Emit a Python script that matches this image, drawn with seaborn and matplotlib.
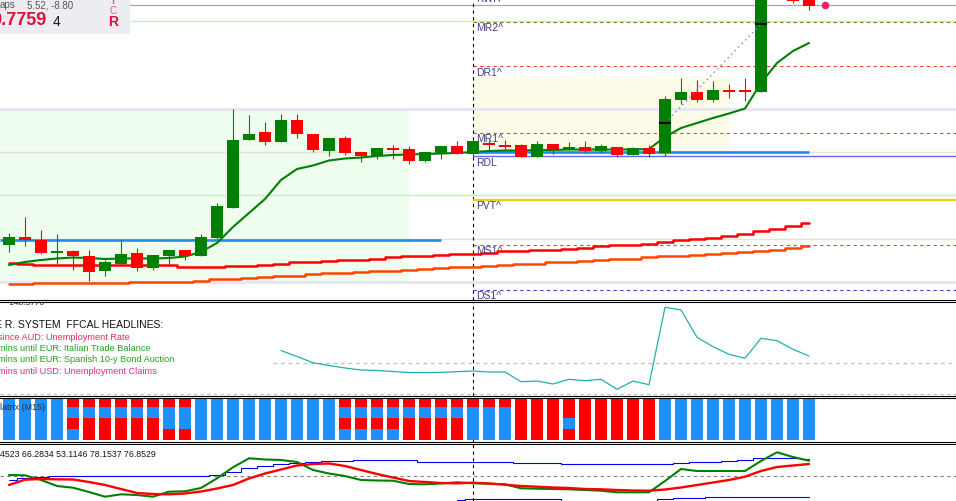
import matplotlib
matplotlib.use("Agg")
import numpy as np
import seaborn as sns
from matplotlib import pyplot as plt
from matplotlib.patches import Rectangle

# ---- data (AUDUSD, M15) ----
opens = [0.77111, 0.77125, 0.77121, 0.77095, 0.77098, 0.77088, 0.77059, 0.77073, 0.77093, 0.77063,
         0.77088, 0.77100, 0.77089, 0.77125, 0.77185, 0.77321, 0.77336, 0.77317, 0.77360, 0.77332,
         0.77299, 0.77324, 0.77296, 0.77289, 0.77303, 0.77302, 0.77279, 0.77293, 0.77308, 0.77292,
         0.77313, 0.77310, 0.77310, 0.77287, 0.77312, 0.77303, 0.77306, 0.77299, 0.77306, 0.77290,
         0.77304, 0.77294, 0.77400, 0.77416, 0.77400, 0.77420, 0.77419, 0.77417, 0.77612, 0.77648, 0.77603]
highs = [0.77135, 0.77167, 0.77140, 0.77132, 0.77100, 0.77101, 0.77081, 0.77119, 0.77104, 0.77090,
         0.77100, 0.77100, 0.77132, 0.77195, 0.77382, 0.77371, 0.77356, 0.77372, 0.77372, 0.77332,
         0.77325, 0.77328, 0.77296, 0.77305, 0.77311, 0.77308, 0.77297, 0.77308, 0.77318, 0.77320,
         0.77321, 0.77320, 0.77312, 0.77319, 0.77312, 0.77317, 0.77319, 0.77313, 0.77306, 0.77307,
         0.77310, 0.77408, 0.77445, 0.77440, 0.77439, 0.77432, 0.77444, 0.77630, 0.77660, 0.77655, 0.77608]
lows = [0.77096, 0.77107, 0.77092, 0.77073, 0.77060, 0.77039, 0.77048, 0.77070, 0.77059, 0.77061,
        0.77068, 0.77081, 0.77089, 0.77123, 0.77185, 0.77321, 0.77310, 0.77317, 0.77325, 0.77297,
        0.77289, 0.77291, 0.77275, 0.77283, 0.77283, 0.77272, 0.77276, 0.77283, 0.77293, 0.77288,
        0.77300, 0.77303, 0.77287, 0.77287, 0.77293, 0.77300, 0.77295, 0.77295, 0.77287, 0.77290,
        0.77287, 0.77288, 0.77392, 0.77396, 0.77396, 0.77405, 0.77399, 0.77417, 0.77605, 0.77595, 0.77580]
closes = [0.77125, 0.77119, 0.77094, 0.77098, 0.77087, 0.77057, 0.77076, 0.77093, 0.77063, 0.77090,
          0.77100, 0.77088, 0.77125, 0.77188, 0.77321, 0.77332, 0.77317, 0.77360, 0.77331, 0.77301,
          0.77324, 0.77295, 0.77289, 0.77304, 0.77301, 0.77279, 0.77295, 0.77308, 0.77293, 0.77318,
          0.77309, 0.77307, 0.77287, 0.77312, 0.77300, 0.77306, 0.77299, 0.77307, 0.77290, 0.77305,
          0.77293, 0.77402, 0.77416, 0.77400, 0.77421, 0.77417, 0.77418, 0.77612, 0.77648, 0.77598, 0.77589]

ma_fast = [0.77070, 0.77076, 0.77080, 0.77083, 0.77085, 0.77084, 0.77082, 0.77083, 0.77083, 0.77083,
           0.77084, 0.77087, 0.77096, 0.77114, 0.77146, 0.77174, 0.77202, 0.77240, 0.77262, 0.77269,
           0.77279, 0.77283, 0.77285, 0.77288, 0.77290, 0.77291, 0.77292, 0.77293, 0.77294, 0.77296,
           0.77298, 0.77299, 0.77299, 0.77300, 0.77300, 0.77301, 0.77301, 0.77301, 0.77301, 0.77301,
           0.77302, 0.77326, 0.77344, 0.77354, 0.77364, 0.77373, 0.77383, 0.77434, 0.77474, 0.77498, 0.77514]
ma_mid = [0.77074, 0.77072, 0.77071, 0.77071, 0.77071, 0.77071, 0.77071, 0.77071, 0.77071, 0.77071,
          0.77071, 0.77067, 0.77067, 0.77067, 0.77068, 0.77069, 0.77071, 0.77073, 0.77075, 0.77076,
          0.77078, 0.77080, 0.77081, 0.77083, 0.77085, 0.77087, 0.77088, 0.77090, 0.77092, 0.77093,
          0.77095, 0.77097, 0.77098, 0.77100, 0.77101, 0.77103, 0.77105, 0.77107, 0.77109, 0.77111,
          0.77113, 0.77116, 0.77119, 0.77122, 0.77125, 0.77129, 0.77133, 0.77138, 0.77143, 0.77149, 0.77155]
ma_slow = [0.77032, 0.77032, 0.77034, 0.77034, 0.77034, 0.77034, 0.77034, 0.77035, 0.77036, 0.77036,
           0.77036, 0.77037, 0.77039, 0.77041, 0.77043, 0.77044, 0.77046, 0.77048, 0.77049, 0.77051,
           0.77053, 0.77054, 0.77056, 0.77058, 0.77059, 0.77061, 0.77062, 0.77064, 0.77066, 0.77067,
           0.77068, 0.77070, 0.77072, 0.77073, 0.77075, 0.77077, 0.77079, 0.77080, 0.77082, 0.77083,
           0.77085, 0.77087, 0.77089, 0.77090, 0.77092, 0.77094, 0.77096, 0.77098, 0.77101, 0.77104, 0.77107]

level_names = ["RWH", "MR2^", "DR1^", "MR1^", "RDL", "PVT^", "MS1^", "DS1^"]
level_prices = [0.77614, 0.77557, 0.77468, 0.77335, 0.77288, 0.77201, 0.77111, 0.77021]
bid_price = 0.77590

# news panel line, starts at bar 17
news_start = 17
news_line = [12.5, 6.5, 0.3, -2.5, -5, -7, -7.5, -8.5, -9.5, -9.7,
             -9.3, -8.7, -8, -9, -9, -18.7, -18, -21, -16.3, -17.7,
             -16.3, -26.3, -18, -21.7, 55.7, 53, 25.7, 16.3, 8.7, 4.7,
             24.7, 22.3, 13.7, 7]
headlines = ["since AUD: Unemployment Rate",
             "mins until EUR: Italian Trade Balance",
             "mins until EUR: Spanish 10-y Bond Auction",
             "mins until USD: Unemployment Claims"]

# trend matrix (M15), 4 rows, B = blue / R = red
matrix_rows = ["BBBB" + "R" * 8 + "B" * 9 + "R" * 20 + "B" * 10,
               "B" * 32 + "R" * 9 + "B" * 10,
               "BBBB" + "R" * 6 + "BB" + "B" * 9 + "R" * 8 + "BBB" + "RRR" + "B" + "R" * 5 + "B" * 10,
               "B" * 5 + "R" * 7 + "B" * 9 + "BBBB" + "RRRR" + "BBB" + "R" * 9 + "B" * 10]

osc_green = [1, 0.7, -4, -10, -11.7, -16, -20.7, -18.3, -19, -20.7,
             -15.7, -15.3, -12, -2.3, 8.7, 17.7, 16.5, 16, 14, 6,
             2.5, 0, -4, -4.5, -4.7, -8, -8.3, -7.5, -6.3, -7.3,
             -7.7, -8.3, -12.3, -12.7, -13, -13.3, -14, -14.7, -16.3, -16.3,
             -16.3, -5, 7, 5, 5, 5, 5, 15, 23.7, 19, 15.3]
osc_red = [-9, -3.7, -3, -3.3, -3.5, -6, -9, -13, -17, -18,
           -18.3, -17.5, -15.5, -12.5, -9, -2.5, 2.5, 6.5, 10.5, 12,
           12.5, 10, 6, 2, -1.5, -5, -6, -7, -7.3, -6.7,
           -7.5, -8.7, -10, -10.7, -11.5, -12, -13, -13.3, -14, -14.5,
           -14.7, -13.5, -11.5, -9, -6.5, -4, -0.7, 5, 9, 10.5, 12]
band_upper = [-3.7, -2, -1, 0, 0, 0, 0, 0, 0, 0,
              0, 0, 0, 1, 4.3, 7.7, 10, 11.7, 12.7, 14,
              14.7, 15.3, 15.7, 15.7, 15.7, 15.7, 14.3, 14.3, 14.3, 14.3,
              14.3, 14.3, 12.7, 12.7, 12.7, 11.7, 11.7, 11.7, 11.7, 11.7,
              11.7, 11.7, 12.7, 13.7, 13.7, 15, 16, 17.7, 17.7, 18, 17]
band_lower_start = 28
band_lower = [-24, -23.3, -23.3, -23.3, -23.3, -23.3, -23.3, -26, -26, -26,
              -26, -26, -26, -23.3, -22.3, -21.7, -20.7, -20.7, -21.3, -21.3,
              -21.3, -21.3, -21.3]

# ---- layout ----
W, H = 956, 501
GREEN, RED = "#008000", "#FF0000"
sns.set_style("white")
plt.rcParams["font.family"] = ["Liberation Sans", "DejaVu Sans"]

fig = plt.figure(figsize=(W / 100, H / 100), dpi=100)
XL = (-9 / 16, (W - 9) / 16)   # bar i sits at pixel 9 + 16*i
idx = np.arange(len(opens))


def panel(top, bottom, spines):
    ax = fig.add_axes([0, 1 - bottom / H, 1, (bottom - top) / H])
    ax.set_xlim(*XL)
    ax.set_xticks([])
    ax.set_yticks([])
    for name, sp in ax.spines.items():
        sp.set_visible(name in spines)
        sp.set_color("black")
        sp.set_linewidth(0.8)
    return ax


ax = panel(0, 299.5, ["bottom"])
ax_news = panel(301.5, 395.5, ["top", "bottom"])
ax_mx = panel(397.5, 441.5, ["top", "bottom"])
ax_osc = panel(443.5, 501, ["top"])

# ---- main price panel ----
ax.set_ylim(0.77001, 0.77600)
ax.add_patch(Rectangle((XL[0], 0.77036), 25 - XL[0], 0.00346, color="#EFFDEF", lw=0, zorder=0))
ax.add_patch(Rectangle((29, 0.77290), 16, 0.00156, color="#FBFBE8", lw=0, zorder=0))
for p in [0.77383, 0.77037]:
    ax.axhline(p, color="#E6E6F5", lw=2.2, zorder=1)
for p in [0.77558, 0.77209]:
    ax.axhline(p, color="#C6EEC6", lw=1.0, zorder=1)
for p in [0.77297, 0.77123]:
    ax.axhline(p, color="#E4E4D6", lw=1.0, zorder=1)
ax.axhline(bid_price, color="#A8A8A8", lw=0.9, zorder=1)

level_style = {"MR2^": ("#808000", (0, (3, 3)), 0.8), "DR1^": ("#FF3A2A", (0, (3, 3)), 0.8),
               "MR1^": ("#808000", (0, (3, 3)), 0.8), "RDL": ("#6464F0", "-", 1.0),
               "PVT^": ("#E6D400", "-", 1.6), "MS1^": ("#808000", (0, (3, 3)), 0.8),
               "DS1^": ("#4040D0", (0, (3, 3)), 0.8), "RWH": ("#A0A0A0", "-", 0.8)}
for name, p in zip(level_names, level_prices):
    col, ls, lw = level_style[name]
    ax.hlines(p, 29, XL[1], color=col, ls=ls, lw=lw, zorder=2)
    ax.text(29.2, p - 0.00003, name, color="#463C8C", fontsize=7.5, va="top", ha="left", zorder=6)

ax.hlines(0.77296, 28.8, 50, color="#1E8CF0", lw=1.9, zorder=2)
ax.hlines(0.77120, XL[0], 27, color="#1E8CF0", lw=1.9, zorder=2)

sns.lineplot(x=idx, y=ma_slow, ax=ax, color="#FF4500", lw=1.8, drawstyle="steps-mid", zorder=3)
sns.lineplot(x=idx, y=ma_mid, ax=ax, color="#FF0000", lw=1.8, drawstyle="steps-mid", zorder=3)
sns.lineplot(x=idx, y=ma_fast, ax=ax, color=GREEN, lw=1.5, zorder=3)

o, c = np.array(opens), np.array(closes)
cols = np.where(c >= o, GREEN, RED)
ax.vlines(idx, lows, highs, color=cols, lw=0.8, zorder=4)
body_h = np.maximum(np.abs(c - o), 0.000035)
ax.bar(idx, body_h, bottom=np.minimum(o, c) - (body_h - np.abs(c - o)) / 2,
       width=0.7, color=cols, lw=0, zorder=5)

# trend line and its anchors
ax.plot([41, 47], [0.77354, 0.77552], color="#5A8CE6", lw=0.8, ls=(0, (1.5, 3)), zorder=6)
ax.plot([41, 47], [0.77354, 0.77552], ls="none", marker="_", ms=9, mew=1.6, color="black", zorder=6)
ax.plot([51], [bid_price], ls="none", marker="o", ms=4.5, color="#E8285A", zorder=6)

# ---- news panel ----
ax_news.set_ylim(-32.5, 61.5)
ax_news.axhline(-31.3, color="#C0C0C0", lw=0.8, ls=(0, (3, 3)))
ax_news.hlines(0, 16.5, XL[1], color="#C0C0C0", lw=0.9, ls=(0, (3, 3)))
sns.lineplot(x=np.arange(news_start, news_start + len(news_line)), y=news_line,
             ax=ax_news, color="#20B2AA", lw=0.9)
ax_news.text(-0.3, 59.5, "· 148.3770", fontsize=6, va="center", color="#202020", clip_on=True)
ax_news.text(-0.85, 38, "E R. SYSTEM  FFCAL HEADLINES:", fontsize=7.5, va="center", color="#101010")
head_cols = ["#EE2A5E", "#22A022", "#22A022", "#E02C7C"]
for k, (s, hc) in enumerate(zip(headlines, head_cols)):
    ax_news.text(-0.66, 25.3 - 11.1 * k, s, fontsize=6.6, va="center", color=hc)

# ---- matrix panel ----
ax_mx.set_ylim(44, 0)
row_top = [0, 9.2, 20.5, 31.8]
row_h = [9.2, 11.3, 11.3, 10.7]
ax_mx.axvline(29, color="black", lw=0.8, ls=(0, (3, 3)), zorder=0)
for r, pattern in enumerate(matrix_rows):
    colors = ["#1E90FF" if ch == "B" else "#FF0000" for ch in pattern]
    ax_mx.bar(np.arange(len(pattern)), row_h[r], bottom=row_top[r], width=0.71,
              color=colors, lw=0, zorder=2)
ax_mx.text(XL[0] + 0.03, 9.5, "latrix (M15)", fontsize=6.5, va="center", color="#303030", zorder=3)

# ---- oscillator panel ----
ax_osc.set_ylim(-25, 32.5)
ax_osc.axhline(-0.3, color="#808080", lw=0.8, ls=(0, (3, 3)))
sns.lineplot(x=idx, y=band_upper, ax=ax_osc, color="#0000FF", lw=0.8, drawstyle="steps-mid")
sns.lineplot(x=np.arange(band_lower_start, band_lower_start + len(band_lower)), y=band_lower,
             ax=ax_osc, color="#0000FF", lw=0.8, drawstyle="steps-mid")
sns.lineplot(x=idx, y=osc_green, ax=ax_osc, color=GREEN, lw=1.5)
sns.lineplot(x=idx, y=osc_red, ax=ax_osc, color=RED, lw=1.7)
ax_osc.text(XL[0] + 0.03, 21.5, "4523 66.2834 53.1146 78.1537 76.8529", fontsize=6.3,
            va="center", color="#151515")

for a in [ax, ax_news, ax_osc]:
    a.axvline(29, color="black", lw=0.8, ls=(0, (3, 3)), zorder=1)
    a.set_xlabel("")
    a.set_ylabel("")

# ---- info box top-left ----
fig.add_artist(Rectangle((0, 1 - 34 / H), 130 / W, 34 / H, transform=fig.transFigure,
                         color="#ECECF1", lw=0, zorder=8))


def ftext(x, y, s, **kw):
    fig.text(x / W, 1 - y / H, s, zorder=9, **kw)


ftext(0, 5.5, "aps", fontsize=7, color="#555555", va="center")
ftext(27, 5.5, "5.52, -8.80", fontsize=7, color="#555555", va="center")
ftext(-9, 20.5, "0.7759", fontsize=13, color="#E0103C", fontweight="bold", va="center")
ftext(53, 22, "4", fontsize=10, color="#151515", va="center")
ftext(109.5, 10.5, "C", fontsize=7, color="#F0508A", va="center")
ftext(108, 22.5, "R", fontsize=10, color="#E0103C", fontweight="bold", va="center")
fig.add_artist(plt.Line2D([112.5 / W, 112.5 / W], [1, 1 - 3 / H], color="#F0508A", lw=1,
                          transform=fig.transFigure, zorder=9))

fig.savefig("out.png", dpi=100)
